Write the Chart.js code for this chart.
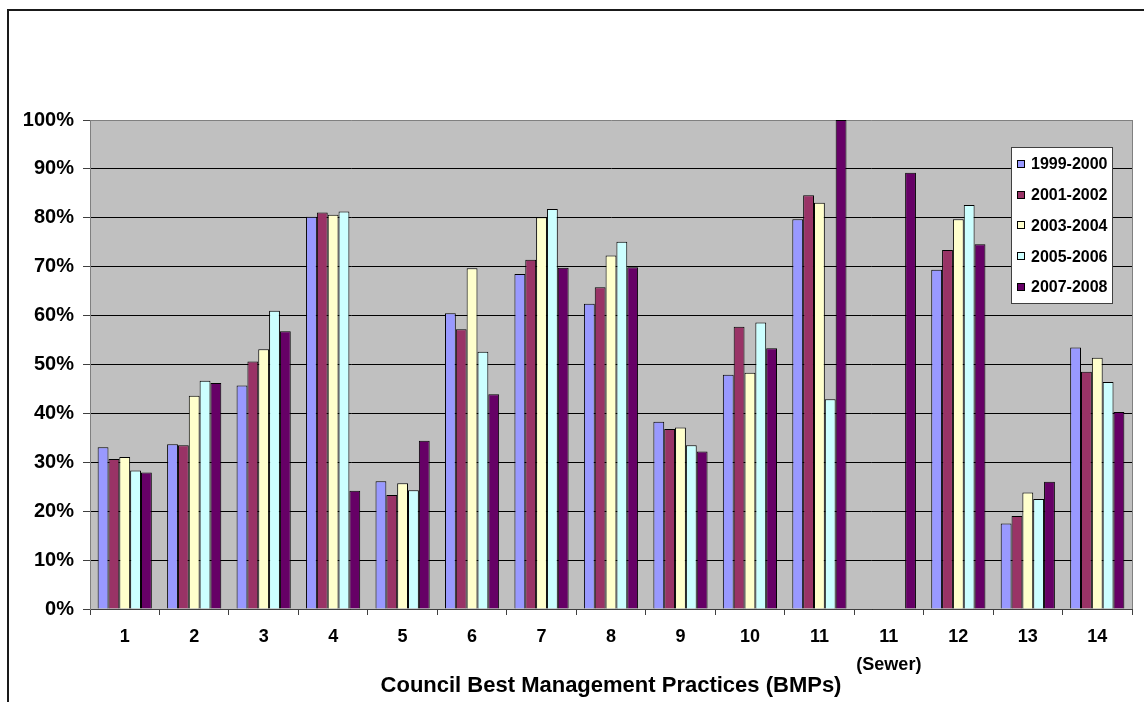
<!DOCTYPE html>
<html>
<head>
<meta charset="utf-8">
<script src="https://cdn.jsdelivr.net/npm/chart.js@4.4.1/dist/chart.umd.min.js"></script>
<style>
  html, body { margin: 0; padding: 0; background: #fff; }
  #wrap { width: 1144px; height: 702px; position: relative; }
</style>
</head>
<body>
<div id="wrap"><canvas id="bmp-chart"></canvas></div>
<script>
// BMP compliance by reporting period
const categorias = ['1', '2', '3', '4', '5', '6', '7', '8', '9', '10', '11', ['11', '(Sewer)'], '12', '13', '14'];
const periodos = ['1999-2000', '2001-2002', '2003-2004', '2005-2006', '2007-2008'];
const colores = ['#9999FF', '#993366', '#FFFFCC', '#CCFFFF', '#660066'];

const valores1999 = [33.1, 33.7, 45.7, 80.2, 26.1, 60.5, 68.5, 62.4, 38.3, 47.9, 79.7, null, 69.4, 17.5, 53.5];
const valores2001 = [30.7, 33.5, 50.6, 81.1, 23.3, 57.2, 71.4, 65.8, 36.8, 57.7, 84.6, null, 73.4, 19.0, 48.5];
const valores2003 = [31.1, 43.6, 53.1, 80.6, 25.7, 69.7, 80.1, 72.3, 37.1, 48.3, 83.1, null, 79.7, 23.8, 51.4];
const valores2005 = [28.3, 46.7, 61.0, 81.3, 24.3, 52.6, 81.8, 75.1, 33.5, 58.6, 42.9, null, 82.6, 22.5, 46.4];
const valores2007 = [27.9, 46.2, 56.8, 24.2, 34.4, 43.9, 69.8, 69.9, 32.2, 53.3, 100, 89.2, 74.6, 26.0, 40.3];

const yMin = 0;
const yMax = 100;
const yPaso = 10;

const FUENTE = "'Liberation Sans', Arial, sans-serif";

const series = [valores1999, valores2001, valores2003, valores2005, valores2007];

// gray plot background + right edge
const fondoPlot = {
  id: 'fondoPlot',
  beforeDraw(chart) {
    const { ctx, chartArea: a } = chart;
    ctx.save();
    ctx.fillStyle = '#C0C0C0';
    ctx.fillRect(a.left, a.top, a.right - a.left, a.bottom - a.top);
    ctx.restore();
  },
  afterDatasetsDraw(chart) {
    const { ctx, chartArea: a } = chart;
    ctx.save();
    ctx.strokeStyle = '#808080';
    ctx.lineWidth = 1;
    ctx.beginPath();
    ctx.moveTo(Math.round(a.right) + 0.5, a.top);
    ctx.lineTo(Math.round(a.right) + 0.5, a.bottom);
    ctx.stroke();
    ctx.restore();
  }
};

// frame around the whole chart
const marco = {
  id: 'marco',
  afterDraw(chart) {
    const { ctx, width, height } = chart;
    ctx.save();
    ctx.strokeStyle = '#1a1a1a';
    ctx.lineWidth = 2;
    ctx.beginPath();
    ctx.moveTo(8, height);
    ctx.lineTo(8, 10);
    ctx.lineTo(width, 10);
    ctx.stroke();
    ctx.restore();
  }
};

// legend box inside the plot, top right
const leyenda = {
  id: 'leyenda',
  afterDraw(chart) {
    const { ctx } = chart;
    const x = 1011, y = 147, w = 101, h = 156;
    ctx.save();
    ctx.fillStyle = '#fff';
    ctx.fillRect(x, y, w, h);
    ctx.strokeStyle = '#404040';
    ctx.lineWidth = 1;
    ctx.strokeRect(x + 0.5, y + 0.5, w, h);
    ctx.font = 'bold 16px ' + FUENTE;
    ctx.textBaseline = 'middle';
    ctx.textAlign = 'left';
    chart.data.datasets.forEach((ds, i) => {
      const cy = 164 + i * 30.7;
      ctx.fillStyle = ds.backgroundColor;
      ctx.fillRect(1017, Math.round(cy - 4), 8, 8);
      ctx.strokeStyle = '#000';
      ctx.strokeRect(1017.5, Math.round(cy - 4) + 0.5, 7, 7);
      ctx.fillStyle = '#000';
      ctx.fillText(ds.label, 1031, cy + 1);
    });
    ctx.restore();
  }
};

new Chart(document.getElementById('bmp-chart'), {
  type: 'bar',
  data: {
    labels: categorias,
    datasets: periodos.map((p, i) => ({
      label: p,
      data: series[i],
      backgroundColor: colores[i],
      borderColor: '#000',
      borderWidth: 1,
      categoryPercentage: 0.78,
      barPercentage: 1
    }))
  },
  options: {
    responsive: true,
    maintainAspectRatio: false,
    animation: false,
    layout: { padding: { top: 120, right: 12, left: 0, bottom: 0 } },
    plugins: {
      legend: { display: false },
      tooltip: { enabled: false }
    },
    scales: {
      x: {
        grid: {
          display: true,
          drawOnChartArea: false,
          drawTicks: true,
          tickLength: 6,
          color: '#404040'
        },
        border: { color: '#404040', width: 1 },
        ticks: {
          color: '#000',
          padding: 8,
          maxRotation: 0,
          autoSkip: false,
          font: { family: FUENTE, size: 18, weight: 'bold', lineHeight: 1.55 }
        },
        title: {
          display: true,
          text: 'Council Best Management Practices (BMPs)',
          color: '#000',
          padding: { top: 0, bottom: 3 },
          font: { family: FUENTE, size: 22, weight: 'bold' }
        },
        afterFit(scale) { scale.height = 93; }
      },
      y: {
        min: yMin,
        max: yMax,
        grid: {
          color: (c) => c.tick && c.tick.value === yMax ? '#808080' : '#000',
          tickColor: '#404040',
          tickLength: 7,
          lineWidth: 1
        },
        border: { color: '#808080', width: 1 },
        ticks: {
          stepSize: yPaso,
          color: '#000',
          padding: 9,
          font: { family: FUENTE, size: 20, weight: 'bold' },
          callback: (v) => v + '%'
        },
        afterFit(scale) { scale.width = 90; }
      }
    }
  },
  plugins: [fondoPlot, leyenda, marco]
});
</script>
</body>
</html>
